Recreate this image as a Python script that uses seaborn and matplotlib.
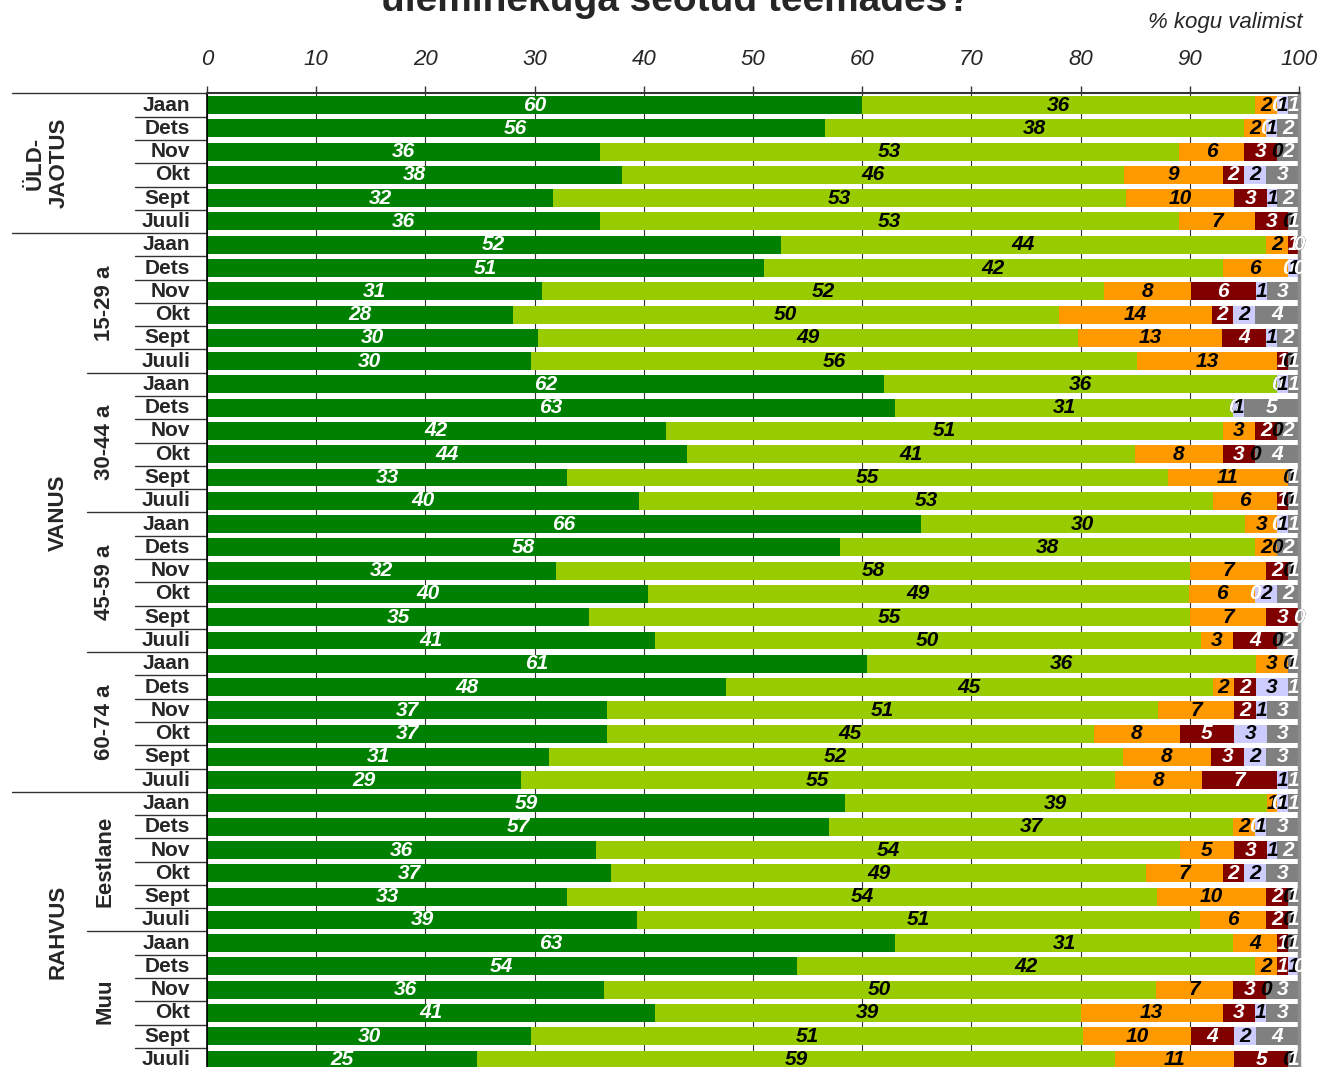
import numpy as np
import pandas as pd
import seaborn as sns
import matplotlib.pyplot as plt
from matplotlib.transforms import blended_transform_factory

# =======================
# Datos
# =======================
months = ['Jaan', 'Dets', 'Nov', 'Okt', 'Sept', 'Juuli']
subgroups = ['ÜLD-\nJAOTUS', '15-29 a', '30-44 a', '45-59 a', '60-74 a', 'Eestlane', 'Muu']
ticks = [0, 10, 20, 30, 40, 50, 60, 70, 80, 90, 100]

dark_green = [60, 56, 36, 38, 32, 36,  52, 51, 31, 28, 30, 30,  62, 63, 42, 44, 33, 40,
              66, 58, 32, 40, 35, 41,  61, 48, 37, 37, 31, 29,  59, 57, 36, 37, 33, 39,
              63, 54, 36, 41, 30, 25]
light_green = [36, 38, 53, 46, 53, 53,  44, 42, 52, 50, 49, 56,  36, 31, 51, 41, 55, 53,
               30, 38, 58, 49, 55, 50,  36, 45, 51, 45, 52, 55,  39, 37, 54, 49, 54, 51,
               31, 42, 50, 39, 51, 59]
orange = [2, 2, 6, 9, 10, 7,  2, 6, 8, 14, 13, 13,  0, 0, 3, 8, 11, 6,
          3, 2, 7, 6, 7, 3,  3, 2, 7, 8, 8, 8,  1, 2, 5, 7, 10, 6,
          4, 2, 7, 13, 10, 11]
dark_red = [0, 0, 3, 2, 3, 3,  1, 0, 6, 2, 4, 1,  0, 0, 2, 3, 0, 1,
            0, 0, 2, 0, 3, 4,  0, 2, 2, 5, 3, 7,  0, 0, 3, 2, 2, 2,
            1, 1, 3, 3, 4, 5]
lavender = [1, 1, 0, 2, 1, 0,  0, 1, 1, 2, 1, 0,  1, 1, 0, 0, 0, 0,
            1, 0, 0, 2, 0, 0,  0, 3, 1, 3, 2, 1,  1, 1, 1, 2, 0, 0,
            0, 1, 0, 1, 2, 0]
gray = [1, 2, 2, 3, 2, 1,  0, 0, 3, 4, 2, 1,  1, 5, 2, 4, 1, 1,
        1, 2, 1, 2, 0, 2,  1, 1, 3, 3, 3, 1,  1, 3, 2, 3, 1, 1,
        1, 0, 3, 3, 4, 1]

series = [dark_green, light_green, orange, dark_red, lavender, gray]
colors = ['#008000', '#99CC00', '#FF9900', '#800000', '#CCCCFF', '#808080']
text_colors = ['white', 'black', 'black', 'white', 'black', 'white']

n = len(dark_green)
rows = [f'r{i}' for i in range(n)]
vals = np.array(series, dtype=float)
shares = vals / vals.sum(axis=0) * 100   # 100% apilado
cum = np.cumsum(shares, axis=0)

df = pd.DataFrame({'row': rows})
for k in range(len(series)):
    df[f'c{k}'] = cum[k]

# =======================
# Figura
# =======================
sns.set_style('white')
plt.rcParams['font.family'] = ['Liberation Sans', 'DejaVu Sans']

W, H = 1317, 1067
fig = plt.figure(figsize=(W / 100, H / 100), dpi=100)
pitch = 23.28
top_px = 93.4
ybot = 41.5
ax = fig.add_axes([207 / W, 1 - (top_px + (ybot + 0.5) * pitch) / H,
                   1092 / W, (ybot + 0.5) * pitch / H])

for k in range(len(series) - 1, -1, -1):
    sns.barplot(data=df, x=f'c{k}', y='row', order=rows, orient='h',
                color=colors[k], saturation=1, width=0.77, errorbar=None,
                linewidth=0, ax=ax, zorder=2)

# etiquetas de valores
for k in range(len(series)):
    starts = cum[k] - shares[k]
    for i in range(n):
        ax.text(starts[i] + shares[k][i] / 2, i, f'{int(vals[k][i])}',
                ha='center', va='center', fontsize=15, fontweight='bold',
                fontstyle='italic', color=text_colors[k], zorder=5)

ax.set_xlim(0, 100)
ax.set_ylim(ybot, -0.5)
ax.set_xlabel('')
ax.set_ylabel('')
ax.set_yticks([])
ax.xaxis.tick_top()
ax.set_xticks(ticks)
ax.set_xticklabels([str(t) for t in ticks], fontsize=16, fontstyle='italic')
ax.tick_params(axis='x', direction='out', length=5, width=1, color='#333333', pad=12)
ax.xaxis.grid(True, color='#333333', lw=0.8)
ax.set_axisbelow(True)
ax.spines['bottom'].set_visible(False)
ax.spines['top'].set_color('#333333')
ax.spines['top'].set_linewidth(1.5)
ax.spines['left'].set_color('black')
ax.spines['left'].set_linewidth(1.2)
ax.spines['right'].set_color('#8c8c8c')
ax.spines['right'].set_linewidth(2.5)

# etiquetas de filas y separadores
trans = blended_transform_factory(fig.transFigure, ax.transData)
for i in range(n):
    ax.text(190 / W, i, months[i % 6], transform=trans, ha='right', va='center',
            fontsize=15, fontweight='bold', clip_on=False)
    if i in (0, 6, 30):
        x0 = 12
    elif i % 6 == 0:
        x0 = 87
    else:
        x0 = 135
    ax.plot([x0 / W, 207 / W], [i - 0.5, i - 0.5], transform=trans,
            color='#333333', lw=1, clip_on=False)

ax.text(47 / W, 2.5, subgroups[0], transform=trans, rotation=90, ha='center',
        va='center', fontsize=16, fontweight='bold', multialignment='center')
for g in range(1, len(subgroups)):
    ax.text(105 / W, g * 6 + 2.5, subgroups[g], transform=trans, rotation=90,
            ha='center', va='center', fontsize=16, fontweight='bold')
ax.text(58 / W, 17.5, 'VANUS', transform=trans, rotation=90, ha='center',
        va='center', fontsize=16, fontweight='bold')
ax.text(58 / W, 35.5, 'RAHVUS', transform=trans, rotation=90, ha='center',
        va='center', fontsize=16, fontweight='bold')

# titulo (cortado arriba) y unidad
fig.text(676 / W, 1 - 11 / H, 'üleminekuga seotud teemades?', ha='center',
         va='baseline', fontsize=28, fontweight='bold')
fig.text(1303 / W, 1 - 28 / H, '% kogu valimist', ha='right', va='baseline',
         fontsize=16, fontstyle='italic')

fig.savefig('out.png', dpi=100)
plt.close()
